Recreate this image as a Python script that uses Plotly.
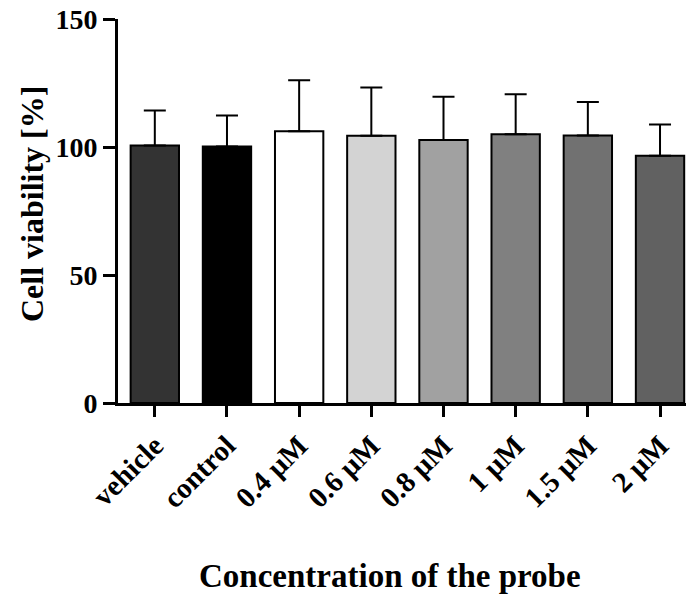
import plotly.graph_objects as go

categories = ["vehicle", "control", "0.4 µM", "0.6 µM", "0.8 µM", "1 µM", "1.5 µM", "2 µM"]
means = [100.6, 100.2, 106.2, 104.4, 102.7, 105.0, 104.5, 96.6]
errors = [13.7, 12.1, 19.9, 18.8, 16.9, 15.6, 13.1, 12.2]
colors = ["#333333", "#000000", "#ffffff", "#d3d3d3", "#a1a1a1", "#808080", "#717171", "#616161"]
y_ticks = [0, 50, 100, 150]

FONT = "Liberation Serif, Times New Roman, serif"
W, H = 686, 594
ML, MR, MT, MB = 118, 0, 19, 191

fig = go.Figure()
fig.add_trace(go.Bar(
    x=categories, y=means,
    marker=dict(color=colors, line=dict(color="black", width=2)),
    error_y=dict(type="data", array=errors, arrayminus=[0] * len(errors),
                 symmetric=False, color="black", thickness=2, width=11),
    width=0.67,
))

fig.update_layout(
    width=W, height=H,
    margin=dict(l=ML, r=MR, t=MT, b=MB, pad=0),
    paper_bgcolor="white", plot_bgcolor="white",
    showlegend=False,
    font=dict(family=FONT, color="black"),
    xaxis=dict(
        range=[-0.51, 7.36], showline=True, linecolor="black", linewidth=3,
        ticks="outside", ticklen=11, tickwidth=3, tickcolor="black",
        tickangle=-45, tickfont=dict(family=FONT, size=29, weight="bold"),
        showgrid=False, zeroline=False,
    ),
    yaxis=dict(
        range=[0, 150], tickvals=y_ticks, showline=True, linecolor="black", linewidth=3,
        ticks="outside", ticklen=12, tickwidth=3, tickcolor="black",
        tickfont=dict(family=FONT, size=28, weight="bold"),
        showgrid=False, zeroline=False,
    ),
    annotations=[
        dict(text="Cell viability [%]", xref="paper", yref="paper",
             x=(32 - ML) / (W - ML - MR), y=(H - MB - 204) / (H - MT - MB),
             xanchor="center", yanchor="middle", textangle=-90, showarrow=False,
             font=dict(family=FONT, size=32, weight="bold")),
        dict(text="Concentration of the probe", xref="paper", yref="paper",
             x=(390 - ML) / (W - ML - MR), y=-(576 - (H - MB)) / (H - MT - MB),
             xanchor="center", yanchor="middle", showarrow=False,
             font=dict(family=FONT, size=33, weight="bold")),
    ],
)

fig.write_html("out.html")
